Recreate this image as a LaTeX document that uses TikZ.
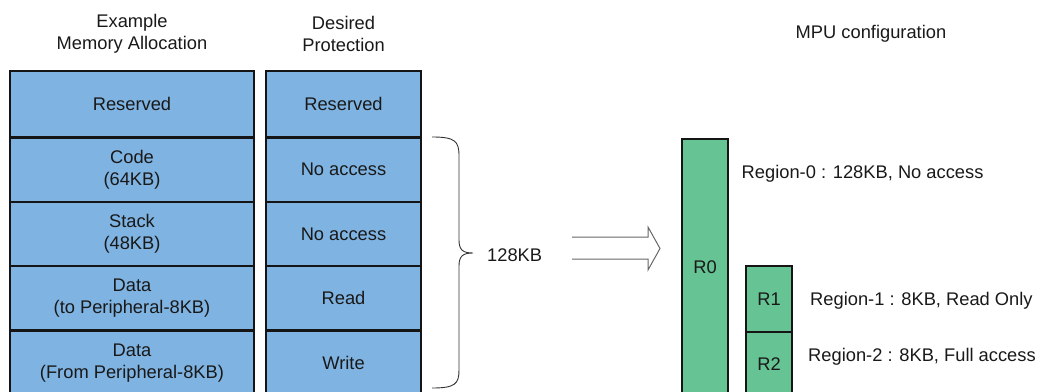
\documentclass[tikz,border=0pt]{standalone}
\usepackage{fontspec}
\setmainfont{Liberation Sans}
\definecolor{memblue}{HTML}{7FB3E1}
\definecolor{mpugreen}{HTML}{66C494}
\definecolor{edge}{HTML}{151515}
\begin{document}
\begin{tikzpicture}[x=1pt,y=-1pt,
  txt/.style={font=\fontsize{18.3}{22}\selectfont, inner sep=0pt, align=center, text=black!90},
  cell/.style={txt, draw=edge, line width=2.2pt, fill=memblue},
  lcell/.style={cell, minimum width=244pt},
  rcell/.style={cell, minimum width=155pt},
  mpu/.style={txt, draw=edge, line width=2.2pt, fill=mpugreen, minimum width=46pt},
  bracestyle/.style={draw=black!80, line width=0.9pt},
  dblarrow/.style={draw=black!60, line width=1pt, line join=miter}]
\useasboundingbox (0,0) rectangle (1039,391);
\clip (0,0) rectangle (1039,391);
% headers
\node[txt] (h1) at (132,33.5) {Example\\Memory Allocation};
\node[txt] (h2) at (343.5,33.5) {Desired\\Protection};
\node[txt] (h3) at (871,34) {MPU configuration};
% memory allocation column
\node[lcell, minimum height=66.5pt] (m1) at (132,104.25) {Reserved};
\node[lcell, minimum height=64.5pt] (m2) at (132,169.75) {Code\\(64KB)};
\node[lcell, minimum height=64pt]   (m3) at (132,234) {Stack\\(48KB)};
\node[lcell, minimum height=64.5pt] (m4) at (132,298.25) {Data\\(to Peripheral-8KB)};
\node[lcell, minimum height=65.5pt] (m5) at (132,363.25) {Data\\(From Peripheral-8KB)};
% protection column
\node[rcell, minimum height=66.5pt] (p1) at (343.5,104.25) {Reserved};
\node[rcell, minimum height=64.5pt] (p2) at (343.5,169.75) {No access};
\node[rcell, minimum height=64pt]   (p3) at (343.5,234) {No access};
\node[rcell, minimum height=64.5pt] (p4) at (343.5,298.25) {Read};
\node[rcell, minimum height=65.5pt] (p5) at (343.5,363.25) {Write};
% brace
\coordinate (bt) at (432,137);
\coordinate (bb) at (432,388);
\coordinate (tip) at (473,253);
\path[bracestyle] (bt) .. controls (455,137) and (459,141) .. (459,156)
  -- (459,240) .. controls (459,250) and (463,253) .. (tip)
  .. controls (463,253) and (459,256) .. (459,266)
  -- (459,370) .. controls (459,384) and (455,388) .. (bb);
\node[txt, anchor=west] (kb) at (487,255) {128KB};
% double arrow
\coordinate (a1) at (572,237);
\coordinate (a2) at (572,259);
\path[dblarrow] (a1) -- (648,237) -- (648,227) -- (660,248.5) -- (648,270) -- (648,259) -- (a2);
% MPU regions
\node[mpu, minimum height=257pt] (r0) at (705,267.5) {R0};
\node[mpu, minimum height=66pt] (r1) at (769,299) {R1};
\node[mpu, minimum height=64pt] (r2) at (769,364) {R2};
\node[txt, anchor=west] (l0) at (741.5,174) {Region-0 : 128KB, No access};
\node[txt, anchor=west] (l1) at (810,301) {Region-1 : 8KB, Read Only};
\node[txt, anchor=west] (l2) at (808,357) {Region-2 : 8KB, Full access};
\end{tikzpicture}
\end{document}
